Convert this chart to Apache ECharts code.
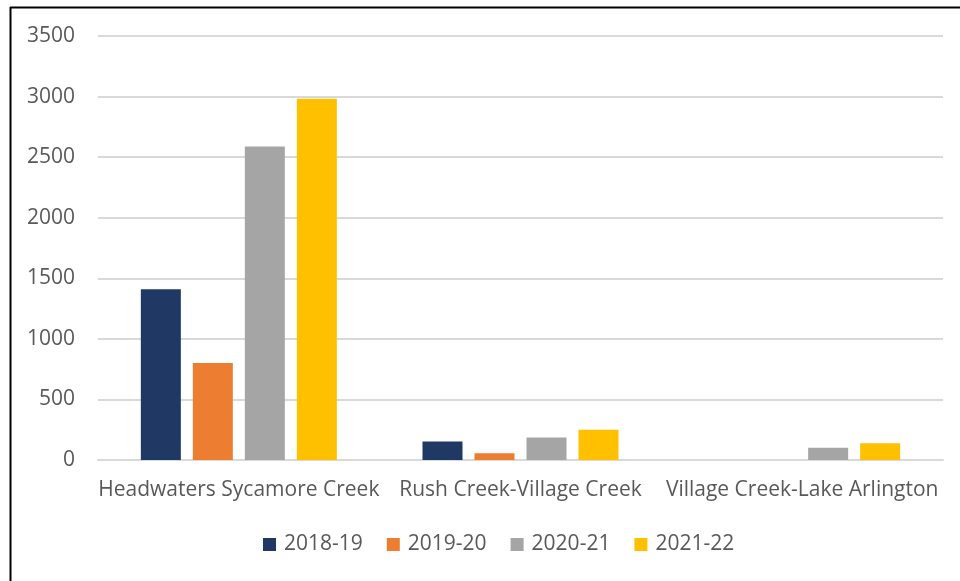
<!DOCTYPE html>
<html>
<head>
<meta charset="utf-8">
<script src="https://cdn.jsdelivr.net/npm/echarts@6/dist/echarts.min.js"></script>
<style>
  html, body { margin: 0; padding: 0; background: #fff; }
  #chart { width: 960px; height: 581px; }
</style>
</head>
<body>
<div id="chart"></div>
<script>
// categories and values per season
var categories = ['Headwaters Sycamore Creek', 'Rush Creek-Village Creek', 'Village Creek-Lake Arlington'];
var seasons = ['2018-19', '2019-20', '2020-21', '2021-22'];
var v2018 = [1410, 152, 0];
var v2019 = [800, 55, 0];
var v2020 = [2587, 185, 102];
var v2021 = [2982, 250, 138];
var yTicks = [0, 500, 1000, 1500, 2000, 2500, 3000, 3500];

var colors = ['#203864', '#ed7d31', '#a5a5a5', '#ffc000'];
var seriesValues = [v2018, v2019, v2020, v2021];
var textColor = '#595959';
var font = 'Open Sans';
var fontSize = 21;

var chart = echarts.init(document.getElementById('chart'));

var series = seasons.map(function (name, i) {
    return {
        name: name,
        type: 'bar',
        data: seriesValues[i],
        barWidth: 40,
        barGap: '30%',
        itemStyle: { color: colors[i] }
    };
});

chart.setOption({
    animation: false,
    grid: { left: 98, right: 17, top: 36, bottom: 121, containLabel: false },
    legend: {
        data: seasons,
        top: 529,
        left: 258,
        itemWidth: 13,
        itemHeight: 13,
        itemGap: 24,
        icon: 'rect',
        textStyle: { color: textColor, fontFamily: font, fontSize: fontSize, padding: [0, 0, 0, 3] }
    },
    xAxis: {
        type: 'category',
        data: categories,
        axisLine: { lineStyle: { color: '#d9d9d9', width: 2 } },
        axisTick: { show: false },
        axisLabel: { color: textColor, fontFamily: font, fontSize: fontSize, margin: 20, interval: 0 }
    },
    yAxis: {
        type: 'value',
        min: yTicks[0],
        max: yTicks[yTicks.length - 1],
        interval: 500,
        axisLine: { show: false },
        axisTick: { show: false },
        axisLabel: {
            color: textColor, fontFamily: font, fontSize: fontSize, margin: 23,
            formatter: function (v) { return String(v); }
        },
        splitLine: { lineStyle: { color: '#d9d9d9', width: 2 } }
    },
    graphic: [
        { type: 'line', shape: { x1: 10.5, y1: 7, x2: 10.5, y2: 581 }, style: { stroke: '#000', lineWidth: 2 } },
        { type: 'line', shape: { x1: 10, y1: 7.5, x2: 960, y2: 7.5 }, style: { stroke: '#000', lineWidth: 2 } }
    ],
    series: series
});
</script>
</body>
</html>
